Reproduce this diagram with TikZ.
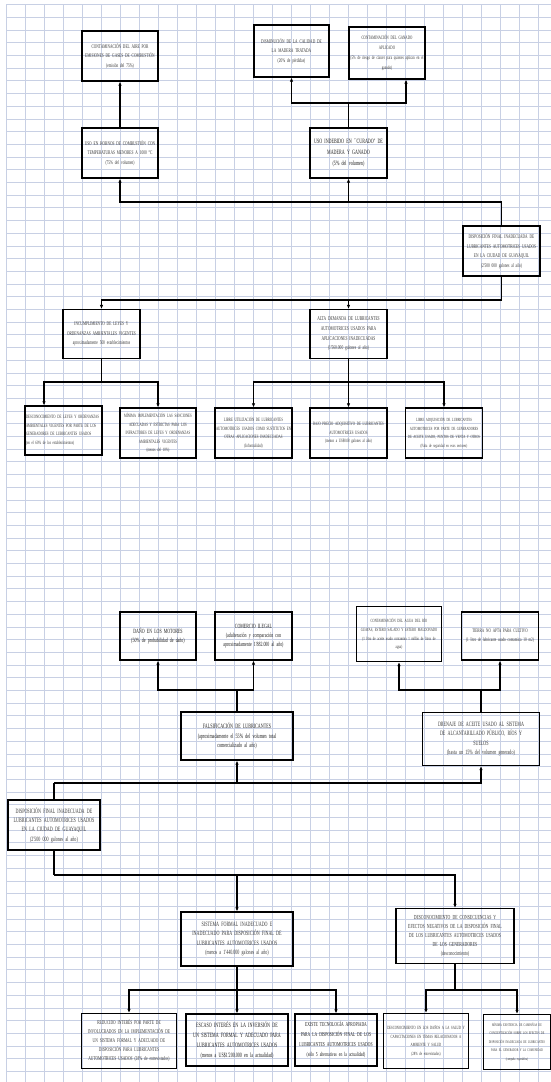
\documentclass[tikz,border=0pt]{standalone}
\usepackage{fontspec}
\setmainfont{Liberation Serif}
\newfontfamily\cond[FakeStretch=0.62, WordSpace=0.7]{Liberation Serif}
\newcommand\fsz[2]{\cond\fontsize{#1}{#2}\selectfont}
\usetikzlibrary{arrows.meta}
\tikzset{
  gridline/.style={draw=gridc, line width=0.8bp},
  box/.style={draw=black, line width=1.4bp, align=center, inner sep=1bp,
    text=black!78, font=\fsz{5.65}{9.6}},
  fs/.style 2 args={font=\fsz{#1}{#2}},
  dims/.style n args={3}{minimum width=#1bp, minimum height=#2bp, text width=#3bp},
  ln/.style={draw=black, line width=1.2bp},
  arr/.style={ln, -{Latex[length=4bp,width=3.6bp]}}
}
\definecolor{gridc}{RGB}{200,208,228}
\begin{document}
\begin{tikzpicture}[x=1bp,y=-1bp]
\useasboundingbox (0,0) rectangle (551,1082);
\fill[white] (0,0) rectangle (551,1082);
% grid
\foreach \i in {0,...,28} \draw[gridline] ({6.3+19*\i},4.6) -- ({6.3+19*\i},1082);
\foreach \j in {0,...,84} \draw[gridline] (6.3,{4.6+12.7*\j}) -- (551,{4.6+12.7*\j});

% ---------- upper diagram ----------
\node[box, dims={76}{50}{74}] (A) at (120,56)
  {CONTAMINACIÓN DEL AIRE POR\\EMISIONES DE GASES DE COMBUSTIÓN\\(emisión del 75\%)};
\node[box, dims={75}{52}{73}] (B) at (291.5,51)
  {DISMINUCIÓN DE LA CALIDAD DE\\LA MADERA TRATADA\\(20\% de pérdidas)};
\node[box, fs={5.2}{10}, dims={76}{52}{74}] (C) at (387,53)
  {CONTAMINACIÓN DEL GANADO\\APLICADO\\(5\% de riesgo de cáncer para quienes aplican en el\\ganado)};
\node[box, dims={76}{50}{74}] (D) at (120,153)
  {USO EN HORNOS DE COMBUSTIÓN CON\\TEMPERATURAS MENORES A 1000 °C\\(75\% del volumen)};
\node[box, fs={6.6}{11}, text=black!88, dims={77}{50}{75}] (E) at (348.5,153)
  {USO INDEBIDO EN ``CURADO'' DE\\MADERA Y GANADO\\(5\% del volumen)};
\node[box, dims={77}{50}{75}] (F) at (501.5,251)
  {DISPOSICIÓN FINAL INADECUADA DE\\LUBRICANTES AUTOMOTRICES USADOS\\EN LA CIUDAD DE GUAYAQUIL\\(2'500 000 galones al año)};
\node[box, dims={77}{49}{75}] (G) at (101.5,334)
  {INCUMPLIMIENTO DE LEYES Y\\ORDENANZAS AMBIENTALES VIGENTES\\aproximadamente 500 establecimientos};
\node[box, fs={5.8}{9.6}, dims={77}{49}{75}] (H) at (348.5,334)
  {ALTA DEMANDA DE LUBRICANTES\\AUTOMOTRICES USADOS PARA\\APLICACIONES INADECUADAS\\(1'560.000 galones al año)};
\node[box, fs={5.0}{8.6}, dims={77}{49}{75}, align=left] (I1) at (63.5,430.5)
  {DESCONOCIMIENTO DE LEYES Y ORDENANZAS\\AMBIENTALES VIGENTES POR PARTE DE LOS\\GENERADORES DE LUBRICANTES USADOS\\(en el 60\% de los establecimientos)};
\node[box, fs={5.0}{8.6}, dims={76}{50}{74}] (I2) at (158,433)
  {MÍNIMA IMPLEMENTACIÓN LAS SANCIONES\\ADECUADAS Y ESTRICTAS PARA LOS\\INFRACTORES DE LEYES Y ORDENANZAS\\AMBIENTALES VIGENTES\\(menos del 10\%)};
\node[box, fs={5.0}{8.6}, dims={77}{50}{75}] (J1) at (253.5,433)
  {LIBRE UTILIZACIÓN DE LUBRICANTES\\AUTOMOTRICES USADOS COMO SUSTITUTOS EN\\OTRAS APLICACIONES INADECUADAS\\(Informalidad)};
\node[box, fs={5.0}{8.6}, dims={77}{50}{75}] (J2) at (348.5,433)
  {BAJO PRECIO ADQUISITIVO DE LUBRICANTES\\AUTOMOTRICES USADOS\\(menos a US\$0.08 galones al año)};
\node[box, fs={4.7}{8.6}, dims={76}{50}{75}] (J3) at (444,433)
  {LIBRE ADQUISICIÓN DE LUBRICANTES\\AUTOMOTRICES POR PARTE DE GENERADORES\\DE ACEITE USADO, PUNTOS DE VENTA Y OTROS\\(Falta de seguridad en esos sectores)};

% upper connectors
\draw[arr] (D.north) -- (A.south);
\coordinate (e1) at (E.north |- 0,103);
\draw[ln] (E.north) -- (e1);
\draw[arr] (e1) -| (B.south);
\draw[arr] (e1) -| ([xshift=19bp]C.south);
\coordinate (f1) at (F.north |- 0,202);
\draw[ln] (F.north) -- (f1);
\draw[arr] (f1) -| (D.south);
\draw[arr] (f1 -| E.south) -- (E.south);
\coordinate (f2) at (F.south |- 0,300);
\draw[ln] (F.south) -- (f2);
\draw[arr] (f2) -| (G.north);
\draw[arr] (f2 -| H.north) -- (H.north);
\coordinate (g1) at (G.south |- 0,382);
\draw[ln] (G.south) -- (g1);
\draw[arr] (g1) -| ([xshift=-19.5bp]I1.north);
\draw[arr] (g1) -| (I2.north);
\coordinate (h1) at (H.south |- 0,382);
\draw[ln] (H.south) -- (h1);
\draw[arr] (h1) -| (J1.north);
\draw[arr] (h1) -| (J3.north);
\draw[arr] (h1) -- (J2.north);

% ---------- lower diagram ----------
\node[box, fs={6.4}{10}, text=black!88, dims={76}{48}{74}] (K) at (158,636)
  {DAÑO EN LOS MOTORES\\(50\% de probabilidad de daño)};
\node[box, fs={6.4}{9.2}, text=black!88, dims={77}{48}{75}] (L) at (253.5,636)
  {COMERCIO ILEGAL\\(adulteración y comparación con\\aproximadamente 1'882.000 al año)};
\node[box, fs={4.8}{9}, dims={84}{55}{83}] (M) at (399,634)
  {CONTAMINACIÓN DEL AGUA DEL RÍO\\GUAYAS, ESTERO SALADO Y ESTERO MALDONADO\\(1 litro de aceite usado contamina 1 millón de litros de\\agua)};
\node[box, fs={5.4}{9.6}, dims={76}{48}{75}] (N) at (500,636)
  {TIERRA NO APTA PARA CULTIVO\\(1 litro de lubricante usado contamina 10 m2)};
\node[box, fs={6.6}{9.6}, text=black!88, dims={112}{48}{110}] (O) at (237,736)
  {FALSIFICACIÓN DE LUBRICANTES\\(aproximadamente el 55\% del volumen total\\comercializado al año)};
\node[box, fs={6.6}{9.4}, dims={117}{53}{115}] (P) at (481,739)
  {DRENAJE DE ACEITE USADO AL SISTEMA\\DE ALCANTARILLADO PÚBLICO, RÍOS Y\\SUELOS\\(hasta un 15\% del volumen generado)};
\node[box, fs={6.6}{9.4}, dims={92}{50}{90}] (Q) at (54,825)
  {DISPOSICIÓN FINAL INADECUADA DE\\LUBRICANTES AUTOMOTRICES USADOS\\EN LA CIUDAD DE GUAYAQUIL\\(2'500 000 galones al año)};
\node[box, fs={6.6}{9.6}, dims={112}{54}{110}] (R) at (237,939)
  {SISTEMA FORMAL INADECUADO E\\INADECUADO PARA DISPOSICIÓN FINAL DE\\LUBRICANTES AUTOMOTRICES USADOS\\(menos a 1'440.000 galones al año)};
\node[box, fs={6.2}{9}, dims={118}{55}{116}] (S) at (455,936)
  {DESCONOCIMIENTO DE CONSECUENCIAS Y\\EFECTOS NEGATIVOS DE LA DISPOSICIÓN FINAL\\DE LOS LUBRICANTES AUTOMOTRICES USADOS\\DE LOS GENERADORES\\(desconocimiento)};
\node[box, fs={5.8}{9}, dims={95}{55}{93}] (T1) at (129,1041)
  {REDUCIDO INTERÉS POR PARTE DE\\INVOLUCRADOS EN LA IMPLEMENTACIÓN DE\\UN SISTEMA FORMAL Y ADECUADO DE\\DISPOSICIÓN PARA LUBRICANTES\\AUTOMOTRICES USADOS (28\% de entrevistados)};
\node[box, fs={6.6}{10}, text=black!88, dims={102}{52}{100}] (T2) at (237,1040)
  {ESCASO INTERÉS EN LA INVERSIÓN DE\\UN SISTEMA FORMAL Y ADECUADO PARA\\LUBRICANTES AUTOMOTRICES USADOS\\(menos a US\$1'200.000 en la actualidad)};
\node[box, fs={6.0}{10}, text=black!88, dims={82}{52}{80}] (T3) at (336,1040)
  {EXISTE TECNOLOGÍA APROPIADA\\PARA LA DISPOSICIÓN FINAL DE LOS\\LUBRICANTES AUTOMOTRICES USADOS\\(sólo 5 alternativas en la actualidad)};
\node[box, fs={4.8}{9}, dims={85}{55}{83}] (T4) at (426,1041)
  {DESCONOCIMIENTO EN LOS DAÑOS A LA SALUD Y\\CAPACITACIONES EN TEMAS RELACIONADOS A\\AMBIENTE Y SALUD\\(28\% de entrevistados)};
\node[box, fs={4.0}{8.4}, dims={66}{55}{64.5}] (T5) at (517,1042)
  {MÍNIMA EXISTENCIA DE CAMPAÑAS DE\\CONCIENTIZACIÓN SOBRE LOS EFECTOS DE\\DISPOSICIÓN INADECUADA DE LUBRICANTES\\PARA EL GENERADOR Y LA COMUNIDAD\\(campaña esporádica)};

% lower connectors
\coordinate (o1) at (O.north |- 0,690);
\draw[ln] (O.north) -- (o1);
\draw[arr] (o1) -| (K.south);
\draw[arr] (o1) -| (L.south);
\coordinate (p1) at (P.north |- 0,690);
\draw[ln] (P.north) -- (p1);
\draw[arr] (p1) -| (M.south);
\draw[arr] (p1) -| (N.south);
\coordinate (q1) at (Q.north |- 0,783);
\draw[ln] (Q.north) -- (q1);
\draw[arr] (q1) -| (P.south);
\draw[arr] (q1 -| O.south) -- (O.south);
\coordinate (q2) at (Q.south |- 0,875);
\draw[ln] (Q.south) -- (q2);
\draw[arr] (q2) -| (S.north);
\draw[arr] (q2 -| R.north) -- (R.north);
\coordinate (r1) at (R.south |- 0,990);
\draw[ln] (R.south) -- (r1);
\draw[arr] (r1) -| (T1.north);
\draw[arr] (r1) -| (T3.north);
\draw[arr] (r1) -- (T2.north);
\coordinate (s1) at (S.south |- 0,990);
\draw[ln] (S.south) -- (s1);
\draw[arr] (s1) -| (T4.north);
\draw[arr] (s1) -| (T5.north);
\end{tikzpicture}
\end{document}
